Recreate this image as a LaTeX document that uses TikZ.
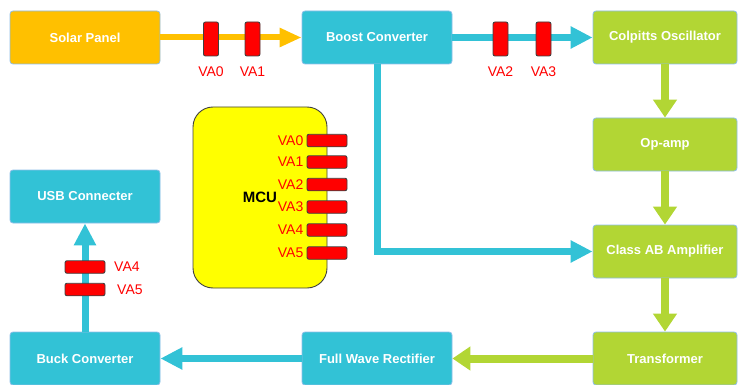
\documentclass[tikz,border=0pt]{standalone}
\usepackage{fontspec}
\setmainfont{Liberation Sans}
\usepackage{tikz}
\usetikzlibrary{arrows.meta,positioning}
\definecolor{solar}{HTML}{FFC000}
\definecolor{aqua}{HTML}{32C2D6}
\definecolor{lime}{HTML}{B2D634}
\definecolor{rim}{HTML}{8DBDE8}
\definecolor{pinred}{HTML}{FF0000}
\definecolor{chip}{HTML}{FFFF00}
\begin{document}
\begin{tikzpicture}[x=1pt,y=-1pt,
  font=\fontsize{13}{15}\selectfont\bfseries,
  blk/.style={draw=rim,line width=0.8pt,rounded corners=3pt,text=white,
              minimum width=150pt,minimum height=53pt,inner sep=0pt,align=center},
  sun/.style={blk,fill=solar},
  aq/.style={blk,fill=aqua},
  gr/.style={blk,fill=lime,minimum width=144pt},
  mcu/.style={draw=black!75,line width=0.9pt,fill=chip,rounded corners=20pt,
              minimum width=134pt,minimum height=181pt,inner sep=0pt,
              font=\fontsize{15}{17}\selectfont\bfseries},
  pinv/.style={draw=black!75,line width=0.9pt,fill=pinred,rounded corners=2pt,
               minimum width=15pt,minimum height=34pt,inner sep=0pt},
  pinh/.style={draw=black!75,line width=0.9pt,fill=pinred,rounded corners=2pt,
               minimum width=40pt,minimum height=12.5pt,inner sep=0pt},
  pinlbl/.style={text=pinred,inner sep=1pt,font=\fontsize{14}{16}\selectfont},
  yarr/.style={draw=solar,line width=6pt,-{Triangle[length=22pt,width=18pt]}},
  carr/.style={draw=aqua,line width=7pt,-{Triangle[length=22pt,width=21pt]}},
  garr/.style={draw=lime,line width=8pt,-{Triangle[length=18pt,width=23pt]}}
]
\useasboundingbox (0,0) rectangle (738,385);
% ---- top row
\node[sun] (solar) at (85,37.5) {Solar Panel};
\node[aq] (boost) at (377,37.5) {Boost Converter};
\node[gr] (colp) at (665,37.5) {Colpitts Oscillator};
% ---- right column
\node[gr] (opamp) at (665,144.5) {Op-amp};
\node[gr] (amp) at (665,251.5) {Class AB Amplifier};
\node[gr] (trafo) at (665,358.5) {Transformer};
% ---- bottom row and left column
\node[aq] (rect) at (377,358.5) {Full Wave Rectifier};
\node[aq] (buck) at (85,358.5) {Buck Converter};
\node[aq] (usb) at (85,196.5) {USB Connecter};

% ---- connectors
\draw[yarr] (solar.east) -- (boost.west);
\draw[carr] (boost.east) -- (colp.west);
\draw[garr] (colp.south) -- (opamp.north);
\draw[garr] (opamp.south) -- (amp.north);
\draw[garr] (amp.south) -- (trafo.north);
\draw[carr] (boost.south) |- (amp.west);
\draw[garr] (trafo.west) -- (rect.east);
\draw[carr] (rect.west) -- (buck.east);
\draw[carr] (buck.north) -- (usb.south);

% ---- sense points on the lines
\node[pinv] (p0) at (211,39) {};
\node[pinv] (p1) at (252.5,39) {};
\node[pinv] (p2) at (500.5,39) {};
\node[pinv] (p3) at (543.5,39) {};
\foreach \i in {0,...,3}
  \node[pinlbl,below=9pt of p\i] {VA\i};
\node[pinh] (p4) at (85,267) {};
\node[pinh] (p5) at (85,289.5) {};
\node[pinlbl,anchor=west] at (113,267) {VA4};
\node[pinlbl,anchor=west] at (116,289.5) {VA5};

% ---- MCU with its inputs
\node[mcu] (chip) at (260,197.5) {MCU};
\foreach \i/\yy in {0/140.5,1/162,2/184.5,3/207,4/230,5/253}{
  \node[pinh] (m\i) at (327,\yy) {};
  \node[pinlbl,anchor=east] at ([xshift=-2pt]m\i.west) {VA\i};
}
\end{tikzpicture}
\end{document}
